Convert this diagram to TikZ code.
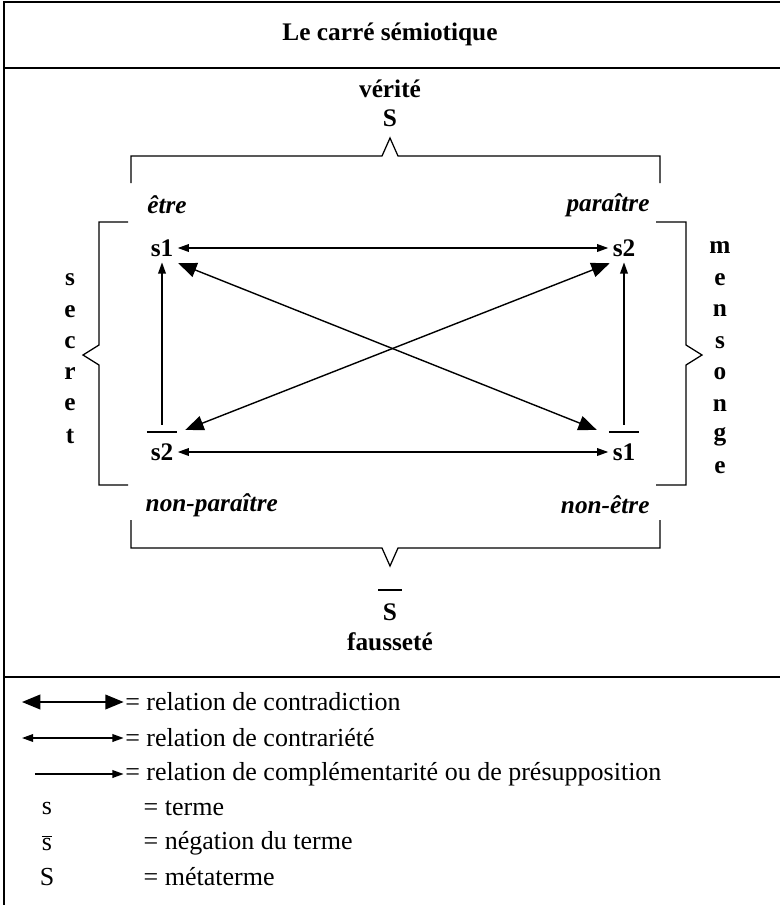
\documentclass[tikz,border=0pt]{standalone}
\usepackage{fontspec}
\setmainfont{Liberation Serif}
\usetikzlibrary{arrows.meta}

\newcommand{\diagfont}{\fontsize{18}{21}\selectfont}

\begin{document}
\begin{tikzpicture}[
        font=\diagfont,
        % Stile fuer Rahmen, Klammern und Terme
        frame/.style={line width=1pt},
        bracketline/.style={line width=0.9pt},
        term/.style={font=\diagfont\bfseries, inner sep=1pt},
        role/.style={font=\diagfont\bfseries\itshape, inner sep=1pt},
        letter/.style={font=\diagfont\bfseries, inner sep=0pt},
        legtext/.style={font=\fontsize{18.5}{21}\selectfont, anchor=west, inner sep=1pt},
        overbar/.style={line width=0.9pt},
        contradiction/.style={{Triangle[length=13pt,width=10.5pt]}-{Triangle[length=13pt,width=10.5pt]}, line width=1pt},
        contrariety/.style={{Triangle[length=8pt,width=5.5pt]}-{Triangle[length=8pt,width=5.5pt]}, line width=1pt},
        complement/.style={-{Triangle[length=8pt,width=5.5pt]}, line width=1pt}
    ]
    \useasboundingbox (0,0) rectangle (19.5,-22.625);

    % ==========================================
    % 1. RAHMEN UND TITEL
    % ==========================================
    \draw[frame] (0.1,-22.625) -- (0.1,-0.05) -- (19.5,-0.05);
    \draw[frame] (0.1,-1.7) -- (19.5,-1.7);
    \draw[frame] (0.1,-16.925) -- (19.5,-16.925);

    \node[term] (title) at (9.75,-0.85) {Le carré sémiotique};

    % ==========================================
    % 2. METATERME UND KLAMMERN
    % ==========================================
    \node[term] (verite) at (9.75,-2.225) {vérité};
    \node[term] (meta)   at (9.75,-2.95) {S};

    \node[term] (metabar) at (9.75,-15.3) {S};
    \node[term] (faux)    at (9.75,-16.05) {fausseté};
    \draw[overbar] ([xshift=-2pt,yshift=8.5pt]metabar.north west) -- ([xshift=2pt,yshift=8.5pt]metabar.north east);

    % oben / unten
    \draw[bracketline] (3.275,-4.575) -- (3.275,-3.9) -- (9.55,-3.9) -- (9.75,-3.45) -- (9.95,-3.9) -- (16.5,-3.9) -- (16.5,-4.575);
    \draw[bracketline] (3.275,-13.0) -- (3.275,-13.7) -- (9.55,-13.7) -- (9.75,-14.15) -- (9.95,-13.7) -- (16.5,-13.7) -- (16.5,-13.0);

    % links / rechts
    \draw[bracketline] (3.2,-5.55) -- (2.475,-5.55) -- (2.475,-8.625) -- (2.075,-8.875) -- (2.475,-9.125) -- (2.475,-12.125) -- (3.2,-12.125);
    \draw[bracketline] (16.4,-5.55) -- (17.15,-5.55) -- (17.15,-8.625) -- (17.55,-8.875) -- (17.15,-9.125) -- (17.15,-12.125) -- (16.4,-12.125);

    \foreach \ch [count=\i] in {s,e,c,r,e,t}
        \node[letter] (secret\i) at (1.75,{-7.0-0.78*(\i-1)}) {\ch};
    \foreach \ch [count=\i] in {m,e,n,s,o,n,g,e}
        \node[letter] (mensonge\i) at (18.0,{-6.2-0.786*(\i-1)}) {\ch};

    % ==========================================
    % 3. TERME DES QUADRATS
    % ==========================================
    \node[role, anchor=west] (etre)     at (3.64,-5.125) {être};
    \node[role, anchor=east] (paraitre) at (16.28,-5.125) {paraître};

    \node[term] (s1)  at (4.05,-6.2) {s1};
    \node[term] (s2)  at (15.6,-6.2) {s2};
    \node[term] (s2b) at (4.05,-11.3) {s2};
    \node[term] (s1b) at (15.6,-11.3) {s1};
    \draw[overbar] ([xshift=-1.5pt,yshift=7pt]s2b.north west) -- ([xshift=1.5pt,yshift=7pt]s2b.north east);
    \draw[overbar] ([xshift=-1.5pt,yshift=7pt]s1b.north west) -- ([xshift=1.5pt,yshift=7pt]s1b.north east);

    \node[role, anchor=west] (nonparaitre) at (3.6,-12.625) {non-paraître};
    \node[role, anchor=east] (nonetre)     at (16.28,-12.625) {non-être};

    % --- Relationen ---
    \draw[contrariety, shorten <=2pt, shorten >=2pt] (s1) -- (s2);
    \draw[contrariety, shorten <=2pt, shorten >=2pt] (s2b) -- (s1b);

    \draw[contradiction] ([xshift=2.4pt,yshift=-3.6pt]s1.south east) -- ([xshift=-10.2pt,yshift=8.5pt]s1b.north west);
    \draw[contradiction] ([xshift=-1pt,yshift=-3.6pt]s2.south west) -- ([xshift=7.4pt,yshift=8.5pt]s2b.north east);

    \draw[complement] ([yshift=12pt]s2b.north) -- ([yshift=-3pt]s1.south);
    \draw[complement] ([yshift=12pt]s1b.north) -- ([yshift=-3pt]s2.south);

    % ==========================================
    % 4. LEGENDE
    % ==========================================
    \node[legtext] (leg1) at (3.09,-17.55) {= relation de contradiction};
    \node[legtext] (leg2) at (3.09,-18.45) {= relation de contrariété};
    \node[legtext] (leg3) at (3.09,-19.35) {= relation de complémentarité ou de présupposition};

    \draw[contradiction] ([xshift=-2.54cm]leg1.west) -- (leg1.west);
    \draw[contrariety]   ([xshift=-2.54cm]leg2.west) -- (leg2.west);
    \draw[complement]    ([xshift=-2.22cm]leg3.west) -- (leg3.west);

    \node[legtext, anchor=center] (symterm) at (1.175,-20.2) {s};
    \node[legtext, anchor=center] (symneg)  at (1.175,-21.075) {$\overline{\mbox{s}}$};
    \node[legtext, anchor=center] (symmeta) at (1.175,-21.925) {S};

    \node[legtext] (leg4) at (3.55,-20.2) {= terme};
    \node[legtext] (leg5) at (3.55,-21.075) {= négation du terme};
    \node[legtext] (leg6) at (3.55,-21.925) {= métaterme};

\end{tikzpicture}
\end{document}
